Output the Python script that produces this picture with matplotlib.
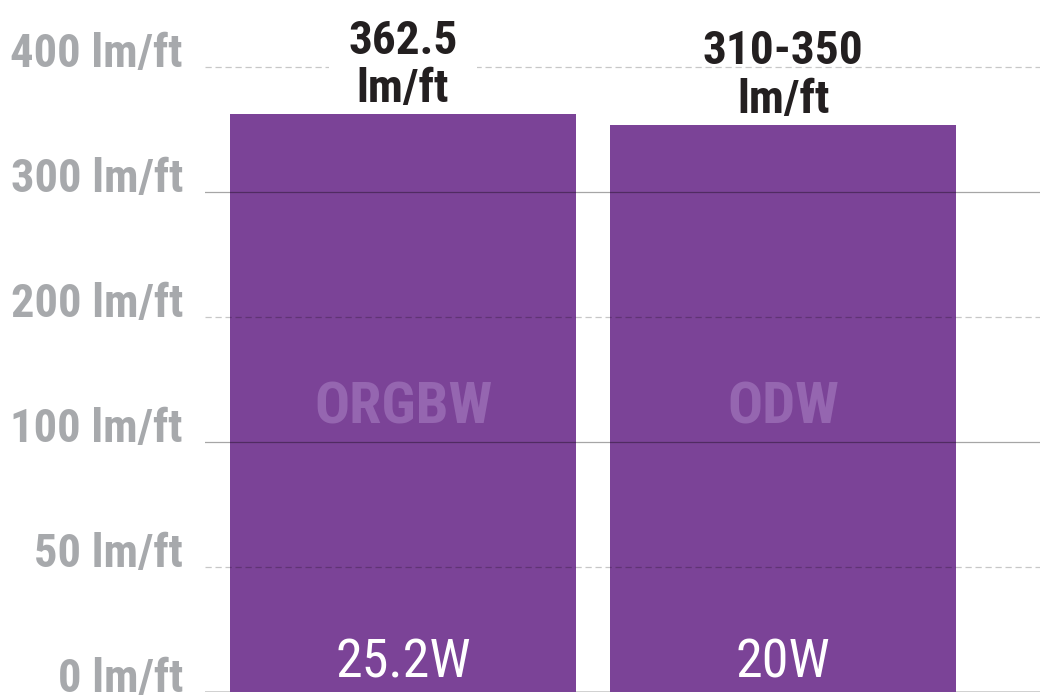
import numpy as np
import matplotlib
matplotlib.use('Agg')
import matplotlib.pyplot as plt
import matplotlib.transforms as mtransforms

# Chart data
categories = ['ORGBW', 'ODW']
lumens = [362.5, 354]
value_labels = ['362.5\nlm/ft', '310-350\nlm/ft']
watt_labels = ['25.2W', '20W']

tick_values = [0, 50, 100, 200, 300, 400]
tick_labels = ['0 lm/ft', '50 lm/ft', '100 lm/ft', '200 lm/ft', '300 lm/ft', '400 lm/ft']
tick_dashed = [False, True, False, True, False, True]

# Piecewise scale: every tick gets the same height
scale_vals = [-100, 0, 50, 100, 200, 300, 400, 1000]
scale_pos = [-2, 0, 1, 2, 3, 4, 5, 11]


def forward(v):
    return np.interp(v, scale_vals, scale_pos)


def inverse(p):
    return np.interp(p, scale_pos, scale_vals)


FONT = ['Roboto Condensed', 'DejaVu Sans']
BAR_COLOR = '#7b4397'

fig = plt.figure(figsize=(10.4, 6.98), dpi=100)
ax = fig.add_axes([205 / 1040, 6 / 698, 835 / 1040, 692 / 698])
ax.set_yscale('function', functions=(forward, inverse))
ax.set_ylim(0, inverse(692 / 125))
ax.set_xlim(-0.521, 1.676)

x = np.arange(len(categories))
ax.bar(x, lumens, width=0.9105, color=BAR_COLOR, zorder=2)

# Gridlines are drawn on top of the bars
for val, dashed in zip(tick_values, tick_dashed):
    if val == 0:
        ax.axhline(val, color='#cccccc', lw=2, zorder=1)
    elif dashed:
        ax.axhline(val, color='black', alpha=0.22, lw=0.9, dashes=(5, 3), zorder=3 if val < 400 else 1)
    else:
        ax.axhline(val, color='black', alpha=0.35, lw=0.9, zorder=3)

# Y tick labels
trans = mtransforms.blended_transform_factory(fig.transFigure, ax.transData)
for val, lab in zip(tick_values, tick_labels):
    ax.text(183 / 1040, val, lab, transform=trans, ha='right', va='baseline',
            family=FONT, fontweight='bold', fontsize=33.5, color='#a7a9ac', clip_on=False)

# Labels on the bars
for i, (val, lab, cat, w) in enumerate(zip(lumens, value_labels, categories, watt_labels)):
    top = ax.transData.transform((i, val))[1]
    lab_y = ax.transData.inverted().transform((0, top + 3))[1]
    # the first label hides the top gridline behind it
    box = dict(facecolor='white', edgecolor='none', pad=14) if i == 0 else None
    ax.text(i, lab_y, lab, ha='center', va='bottom', family=FONT, fontweight='bold',
            fontsize=34, color='#231f20', linespacing=1.12, zorder=1.5, bbox=box)
    ax.text(i, 115, cat, ha='center', va='baseline', family=FONT, fontweight='bold',
            fontsize=42, color='#9566b0', zorder=4)
    ax.text(i, 6, w, ha='center', va='baseline', family=FONT,
            fontsize=39, color='white', zorder=4)

ax.set_xticks([])
ax.set_yticks([])
ax.minorticks_off()
for s in ax.spines.values():
    s.set_visible(False)

fig.savefig('out.png', dpi=100)
